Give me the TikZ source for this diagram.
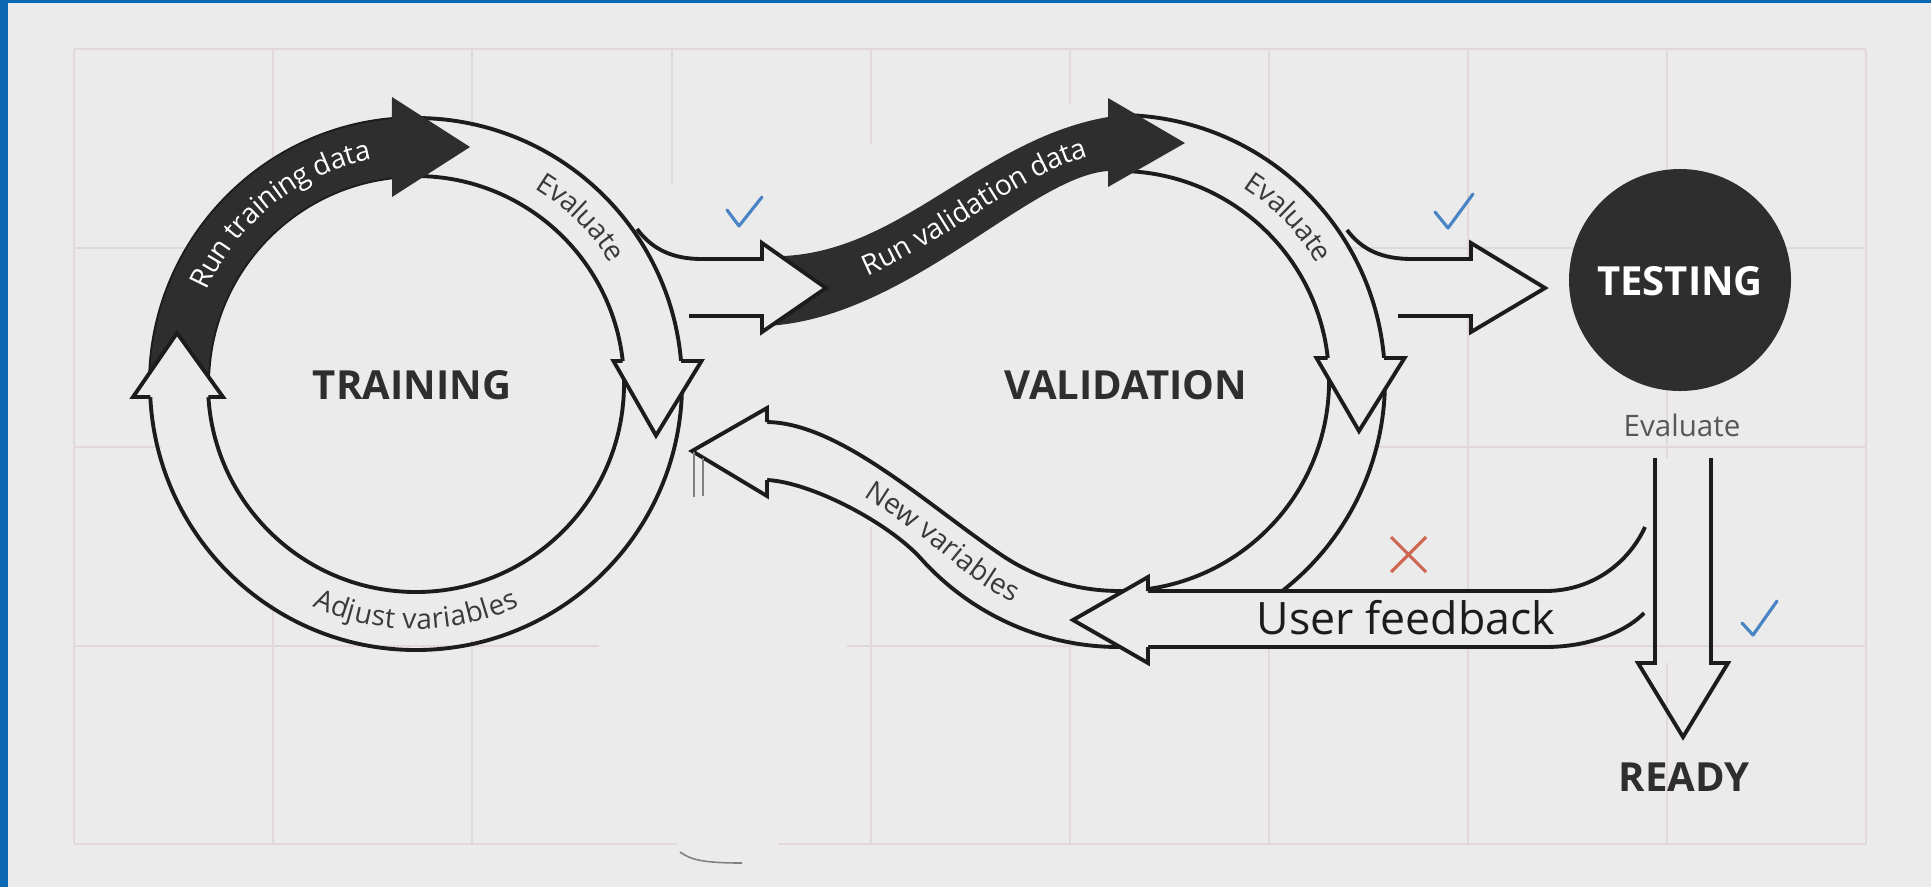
\documentclass[tikz,border=0pt]{standalone}
\usepackage{fontspec}
\setmainfont{Open Sans}
\usetikzlibrary{decorations.text}

\definecolor{paper}{HTML}{EBEBEB}
\definecolor{framec}{HTML}{0B68B3}
\definecolor{gridc}{HTML}{E2D8D8}
\definecolor{ink}{HTML}{1C1C1C}
\definecolor{bandc}{HTML}{2E2E2E}
\definecolor{labelc}{HTML}{3A3A3A}
\definecolor{tickc}{HTML}{4A84C4}
\definecolor{crossc}{HTML}{CF6650}

\newcommand\ringfont{\fontsize{8}{9.6}\selectfont}
\newcommand\stagefont{\fontsize{11.4}{13.7}\selectfont\bfseries}

\begin{document}
\begin{tikzpicture}[x=0.01cm, y=-0.01cm,
  outline/.style={draw=ink, line width=1.1pt},
  gridline/.style={draw=gridc, line width=0.55pt},
  stagelabel/.style={font=\stagefont, text=bandc, inner sep=0pt, anchor=base},
  tickmark/.style={draw=tickc, line width=0.9pt, line cap=round, line join=round},
  artefact/.style={draw=gray, line width=0.45pt},
]
\useasboundingbox (0,0) rectangle (1931,887);
\fill[paper] (0,0) rectangle (1931,887);
\fill[framec] (0,0) rectangle (8.3,887);
\fill[framec] (0,0) rectangle (1931,2.8);

% ---------------- board grid ----------------
\foreach \gx in {74,273,472,672,871,1070,1269,1468,1667,1866}
  \draw[gridline] (\gx,49) -- (\gx,844);
\foreach \gy in {49,248,447}
  \draw[gridline] (74,\gy) -- (1866,\gy);
% opaque backdrop of the pasted diagram
\fill[paper] (416,384) circle[radius=262];
\fill[paper] (1119,381) circle[radius=262];
\fill[paper] (600,200) -- (1110,95) -- (1110,381) -- (1000,560) -- (770,500) -- (600,500) -- cycle;
\fill[paper] (600,500) rectangle (847,850);
\fill[paper] (1073,591) rectangle (1645,645);
\fill[paper] (1398,259) rectangle (1471,316);
\fill[paper] (1655,458) rectangle (1711,663);
\draw[gridline] (74,646) -- (599,646) (847,646) -- (1866,646);
\draw[gridline] (74,844) -- (677,844) (778,844) -- (1866,844);

% ---------------- TRAINING loop ----------------
\draw[outline] (416,384) circle[radius=208];
\draw[outline] (416,384) circle[radius=266];
% "Run training data" band
\fill[bandc] (150,384) arc[start angle=180, end angle=264.8, radius=266]
  -- (392,97) -- (470,147) -- (392,197) -- (392.1,177.4)
  arc[start angle=263.4, end angle=180, radius=208] -- cycle;
% head of the evaluate arrow
\fill[paper] (613.5,361) -- (656,435.5) -- (701.5,361) -- cycle;
\draw[outline] (622.7,361) -- (613.5,361) -- (656,435.5) -- (701.5,361) -- (681,361);
% head of the adjust arrow
\fill[paper] (133,397) -- (177,333) -- (223,397) -- cycle;
\draw[outline] (150.3,397) -- (133,397) -- (177,333) -- (223,397) -- (208.4,397);

% ---------------- VALIDATION loop ----------------
% outer edge of the evaluate arc
\draw[outline] (1130.1,115.2) arc[start angle=272.4, end angle=412.1, radius=266];
% inner edge, running on into the upper edge of "New variables"
\draw[outline] (1111.7,171.1) arc[start angle=268, end angle=484, radius=210]
  .. controls (927,504.8) and (840,423) .. (767,422);
% lower edge of the feedback band, running on into "New variables"
\draw[outline] (1644,613) .. controls (1630,628) and (1595,647) .. (1545,647) -- (1119,647)
  arc[start angle=90, end angle=138, radius=266]
  .. controls (887.9,521.9) and (810,482) .. (767,480);
% upper edge of the feedback band
\draw[outline] (1645,527) .. controls (1630,560) and (1595,591) .. (1545,591) -- (1148,591);
% "Run validation data" band
\fill[bandc] (765,256) .. controls (895,262) and (975,140) .. (1108,117)
  -- (1108,98) -- (1185,143) -- (1108,187) -- (1108,171)
  .. controls (1030,176) and (905,320) .. (765,326) -- cycle;
% training -> validation
\fill[paper] (762,243) -- (826,288) -- (762,332) -- cycle;
\draw[outline] (637,229) .. controls (652,249) and (672,259) .. (702,259) -- (762,259)
  -- (762,243) -- (826,288) -- (762,332) -- (762,316) -- (689,316);
% validation -> testing
\fill[paper] (1471,243) -- (1545,288) -- (1471,332) -- cycle;
\draw[outline] (1347,230) .. controls (1362,250) and (1382,259) .. (1412,259) -- (1471,259)
  -- (1471,243) -- (1545,288) -- (1471,332) -- (1471,316) -- (1398,316);
% head of the validation evaluate arrow
\fill[paper] (1316.5,358) -- (1359,431) -- (1404.5,358) -- cycle;
\draw[outline] (1327.7,358) -- (1316.5,358) -- (1359,431) -- (1404.5,358) -- (1384,358);
% head of the feedback arrow
\fill[paper] (1148,577) -- (1073,620) -- (1148,663) -- cycle;
\draw[outline] (1148,591) -- (1148,577) -- (1073,620) -- (1148,663) -- (1148,647);
% head of the new variables arrow
\fill[paper] (767,408) -- (692,451) -- (767,496) -- cycle;
\draw[outline] (767,422) -- (767,408) -- (692,451) -- (767,496) -- (767,480);

% ---------------- TESTING / READY ----------------
\fill[bandc] (1680,280) circle[radius=111];
\draw[outline] (1655,458) -- (1655,663) -- (1638,663) -- (1683,737) -- (1728,663) -- (1711,663) -- (1711,458);

% ---------------- labels ----------------
\node[stagelabel] (training) at (412,399) {TRAINING};
\node[stagelabel] (validation) at (1126,399) {VALIDATION};
\node[stagelabel, text=white] (testing) at (1680,295) {TESTING};
\node[stagelabel] (ready) at (1684,791) {READY};
\node[anchor=base, inner sep=0pt, font=\fontsize{8.4}{10}\selectfont, text=labelc!85!white] (testeval) at (1682,436) {Evaluate};
\node[anchor=base, inner sep=0pt, font=\fontsize{12.7}{15}\selectfont, text=ink] (feedback) at (1406,634) {User feedback};

\path[decorate, decoration={text along path, text align=center, raise=-2.3pt, text color=labelc, text={|\ringfont|Evaluate}}]
  ([shift={(416,384)}]284.7:237) arc[start angle=284.7, end angle=344.7, radius=237];
\path[decorate, decoration={text along path, text align=center, raise=-2.3pt, text color=white, text={|\ringfont|Run training data}}]
  ([shift={(416,384)}]196.5:237) arc[start angle=196.5, end angle=266.5, radius=237];
\path[decorate, decoration={text along path, text align=center, raise=-2.3pt, text color=labelc, text={|\ringfont|Adjust variables}}]
  ([shift={(416,384)}]125:237) arc[start angle=125, end angle=55, radius=237];
\path[decorate, decoration={text along path, text align=center, raise=-2.3pt, text color=labelc, text={|\ringfont|Evaluate}}]
  ([shift={(1119,381)}]286:238) arc[start angle=286, end angle=346, radius=238];
\path[decorate, decoration={text along path, text align={left, left indent=29pt}, raise=-2.3pt, text color=white, text={|\ringfont|Run validation data}}]
  (765,291) .. controls (900,291) and (1002.5,158) .. (1108,144);
\path[decorate, decoration={text along path, text align={left, left indent=31pt}, raise=-2.3pt, text color=labelc, text={|\ringfont|New variables}}]
  (767,451) .. controls (825,452) and (905,512) .. (960,557) arc[start angle=132, end angle=100, radius=238];

% ---------------- marks ----------------
\draw[tickmark] (727,210) -- (739,226) -- (762,197);
\draw[tickmark] (1435,212) -- (1448,228) -- (1473,194);
\draw[tickmark] (1742,623) -- (1753,635) -- (1777,601);
\draw[draw=crossc, line width=0.9pt] (1391,537) -- (1426,572) (1391,572) -- (1426,537);

% stray strokes
\draw[artefact] (694,452) -- (694,497) (703,458) -- (703,496);
\draw[artefact] (680,852) .. controls (690,859) and (700,863) .. (742,863);
\end{tikzpicture}
\end{document}
